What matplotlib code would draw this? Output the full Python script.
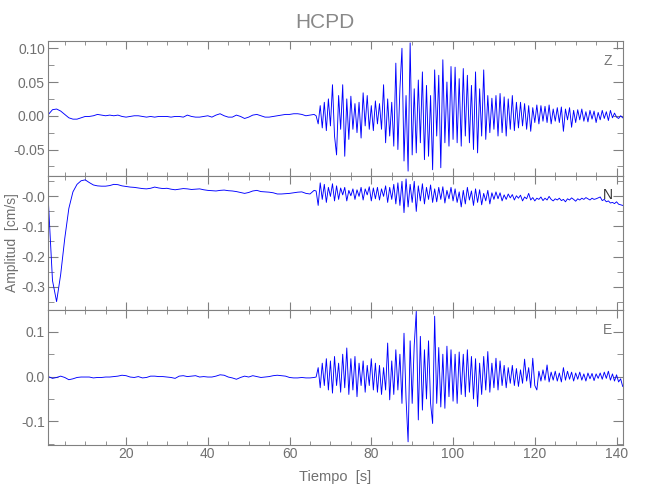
import numpy as np
import matplotlib
matplotlib.use('Agg')
import matplotlib.pyplot as plt
from matplotlib.ticker import MultipleLocator, FixedLocator, FixedFormatter

plt.rcParams['font.family'] = ['Liberation Sans', 'DejaVu Sans']

station = 'HCPD'

# quiet part, 1 s steps from 1 to 65 s
t_quiet = np.arange(1.0, 66.0, 1.0)
# active part, 0.5 s steps from 66 to 141.5 s
t_active = np.arange(66.0, 142.0, 0.5)

z_quiet = [0.002, 0.009, 0.010, 0.007, 0.002, -0.003, -0.005, -0.005, -0.003, -0.001,
           -0.001, 0.000, 0.002, 0.001, 0.000, 0.001, 0.000, 0.001, -0.001, -0.002,
           -0.001, 0.000, 0.000, -0.001, -0.002, -0.001, -0.002, -0.001, -0.001, -0.001,
           -0.002, -0.001, -0.001, -0.002, 0.001, -0.001, -0.002, -0.002, -0.001, 0.000,
           -0.002, 0.001, 0.003, 0.000, -0.002, -0.002, 0.001, -0.001, -0.004, -0.002,
           0.001, 0.002, 0.000, -0.002, -0.002, -0.001, 0.000, 0.001, 0.002, 0.002,
           0.003, 0.003, 0.002, 0.000, 0.001]
z_active = [0.002, 0.000, -0.012, 0.015, -0.018, 0.020, -0.022, 0.025, -0.015, 0.046,
            -0.030, -0.058, 0.030, -0.020, 0.046, -0.060, 0.025, -0.035, 0.029, -0.020,
            0.018, -0.025, 0.020, -0.033, 0.034, -0.015, 0.030, -0.020, 0.015, -0.022,
            0.022, -0.012, 0.018, -0.020, 0.046, -0.040, 0.025, -0.030, 0.020, -0.045,
            0.078, -0.050, 0.040, 0.100, -0.067, 0.030, -0.082, 0.108, -0.058, 0.040,
            -0.055, 0.053, -0.040, 0.065, -0.065, 0.045, -0.060, 0.030, -0.080, 0.068,
            -0.030, 0.060, -0.077, 0.083, -0.040, 0.050, -0.045, 0.073, -0.035, 0.072,
            -0.040, 0.055, -0.045, 0.070, -0.030, 0.060, -0.040, 0.045, -0.050, 0.065,
            -0.055, 0.040, -0.030, 0.068, -0.035, 0.030, -0.025, 0.026, -0.020, 0.030,
            -0.030, 0.033, -0.025, 0.028, -0.030, 0.025, -0.020, 0.030, -0.022, 0.020,
            -0.018, 0.020, -0.015, 0.018, -0.020, 0.015, -0.023, 0.012, -0.010, 0.016,
            -0.012, 0.015, -0.008, 0.014, -0.010, 0.016, -0.012, 0.010, -0.008, 0.012,
            -0.010, 0.013, -0.023, 0.010, -0.006, 0.012, -0.017, 0.008, -0.010, 0.009,
            -0.006, 0.010, -0.008, 0.006, -0.009, 0.008, -0.005, 0.007, -0.010, 0.005,
            -0.006, 0.008, -0.004, 0.006, -0.007, 0.008, -0.003, 0.004, -0.002, -0.004,
            0.000, -0.003]

n_quiet = [-0.02, -0.28, -0.35, -0.26, -0.14, -0.04, 0.015, 0.040, 0.052, 0.055,
           0.046, 0.038, 0.035, 0.034, 0.034, 0.036, 0.040, 0.039, 0.035, 0.033,
           0.031, 0.030, 0.028, 0.026, 0.025, 0.027, 0.031, 0.028, 0.026, 0.027,
           0.024, 0.022, 0.024, 0.026, 0.025, 0.023, 0.024, 0.025, 0.022, 0.020,
           0.019, 0.018, 0.020, 0.021, 0.019, 0.018, 0.016, 0.013, 0.010, 0.013,
           0.018, 0.020, 0.016, 0.015, 0.014, 0.012, 0.008, 0.008, 0.009, 0.010,
           0.012, 0.014, 0.015, 0.010, 0.008]
n_active = [0.020, 0.018, -0.030, 0.045, -0.010, 0.040, -0.020, 0.030, 0.000, 0.042,
            -0.015, 0.035, -0.010, 0.028, 0.005, 0.030, -0.015, 0.020, 0.002, 0.025,
            -0.010, 0.022, 0.000, 0.030, -0.012, 0.025, 0.005, 0.032, -0.015, 0.028,
            -0.008, 0.030, -0.012, 0.025, 0.000, 0.035, -0.020, 0.030, -0.010, 0.040,
            -0.025, 0.045, -0.030, 0.050, -0.054, 0.058, -0.035, 0.040, -0.020, 0.050,
            -0.050, 0.035, -0.015, 0.042, -0.025, 0.030, -0.010, 0.038, -0.020, 0.025,
            -0.018, 0.030, -0.010, 0.032, -0.022, 0.020, -0.008, 0.030, -0.015, 0.025,
            -0.020, 0.015, -0.035, 0.020, -0.025, 0.030, -0.012, 0.018, -0.030, 0.025,
            -0.020, 0.022, -0.028, 0.010, -0.015, 0.020, -0.025, 0.012, -0.010, 0.015,
            -0.008, 0.012, -0.015, 0.005, -0.010, 0.008, -0.005, 0.006, -0.012, 0.002,
            -0.006, 0.004, -0.015, -0.002, -0.008, 0.010, -0.012, -0.004, -0.015, -0.006,
            -0.010, -0.002, -0.014, -0.006, -0.012, 0.000, -0.010, -0.015, -0.008, -0.012,
            -0.006, -0.014, -0.010, -0.018, -0.008, -0.012, -0.005, -0.010, -0.016, -0.008,
            -0.012, -0.006, -0.010, -0.004, -0.008, -0.012, -0.006, -0.010, -0.008, -0.005,
            -0.002, -0.014, -0.010, -0.018, -0.015, -0.022, -0.020, -0.024, -0.018, -0.026,
            -0.028, -0.030]

e_quiet = [0.000, -0.004, -0.002, 0.001, -0.002, -0.007, -0.005, -0.002, -0.001, -0.001,
           -0.001, -0.003, -0.002, -0.002, -0.001, -0.001, 0.000, 0.001, 0.003, 0.002,
           -0.001, -0.002, 0.000, -0.003, -0.002, 0.001, 0.001, 0.000, 0.000, -0.001,
           -0.002, -0.004, 0.001, 0.002, 0.000, 0.001, 0.002, -0.001, 0.000, -0.001,
           -0.001, 0.001, 0.004, 0.003, -0.001, -0.003, -0.006, -0.002, 0.001, -0.001,
           0.002, 0.000, -0.002, -0.001, 0.000, 0.002, 0.003, 0.002, 0.001, -0.002,
           -0.003, -0.003, -0.002, -0.003, -0.003]
e_active = [-0.002, -0.001, 0.020, -0.025, 0.030, -0.020, 0.040, -0.030, 0.035, -0.037,
            0.045, -0.020, 0.030, -0.035, 0.050, -0.025, 0.064, -0.040, 0.040, -0.030,
            0.045, -0.045, 0.030, -0.020, 0.035, -0.035, 0.025, -0.020, 0.040, -0.030,
            0.030, -0.035, 0.025, -0.040, 0.020, -0.030, 0.075, -0.052, 0.035, -0.040,
            0.060, -0.030, 0.050, -0.060, 0.097, -0.050, -0.146, 0.080, -0.060, 0.070,
            0.146, -0.097, 0.090, -0.075, 0.060, -0.050, 0.080, -0.060, -0.105, 0.135,
            -0.060, 0.065, -0.068, 0.050, -0.071, 0.068, -0.045, 0.060, -0.055, 0.050,
            -0.060, 0.055, -0.040, 0.050, -0.045, 0.060, -0.035, 0.045, -0.050, 0.040,
            -0.067, 0.030, -0.040, 0.045, -0.030, 0.056, -0.035, 0.030, -0.025, 0.041,
            -0.030, 0.035, -0.020, 0.025, -0.025, 0.020, -0.015, 0.025, -0.020, 0.018,
            -0.022, 0.015, -0.015, 0.039, -0.010, 0.020, -0.025, 0.041, -0.020, -0.030,
            0.012, -0.010, 0.015, -0.008, 0.026, -0.012, 0.010, -0.008, 0.012, -0.010,
            0.008, -0.012, 0.020, -0.008, 0.012, -0.006, 0.010, -0.010, 0.008, -0.006,
            0.010, -0.008, 0.006, -0.010, 0.008, -0.005, 0.007, -0.009, 0.006, -0.004,
            0.008, -0.006, 0.010, -0.004, 0.012, -0.008, 0.006, -0.010, 0.004, -0.012,
            -0.005, -0.022]

components = ['Z', 'N', 'E']
traces = [z_quiet + z_active, n_quiet + n_active, e_quiet + e_active]
ylims = [(-0.0885, 0.1108), (-0.378, 0.0695), (-0.152, 0.149)]
yticks = [[-0.05, 0.0, 0.05, 0.10], [-0.3, -0.2, -0.1, 0.0], [-0.1, 0.0, 0.1]]
yticklabels = [['-0.05', '0.00', '0.05', '0.10'],
               ['-0.3', '-0.2', '-0.1', '-0.0'],
               ['-0.1', '0.0', '0.1']]
yminor = [0.025, 0.05, 0.05]
label_colors = ['#777777', '#333333', '#777777']

gray = '#808080'
txt = '#707070'
t = np.concatenate([t_quiet, t_active])

fig = plt.figure(figsize=(6.5, 5), dpi=100)
bottoms = [0.649, 0.38, 0.111]
for i, comp in enumerate(components):
    ax = fig.add_axes([0.0734, bottoms[i], 0.8852, 0.269])
    ax.plot(t, traces[i], color='blue', lw=0.65)
    ax.set_xlim(0.83, 141.6)
    ax.set_ylim(*ylims[i])
    ax.xaxis.set_major_locator(MultipleLocator(20))
    ax.xaxis.set_minor_locator(MultipleLocator(5))
    ax.yaxis.set_major_locator(FixedLocator(yticks[i]))
    ax.yaxis.set_major_formatter(FixedFormatter(yticklabels[i]))
    ax.yaxis.set_minor_locator(MultipleLocator(yminor[i]))
    ax.tick_params(which='both', direction='in', top=True, right=True,
                   colors=gray, labelcolor=txt, labelsize=10, pad=2)
    ax.tick_params(axis='x', which='major', length=6)
    ax.tick_params(axis='x', which='minor', length=3)
    ax.tick_params(axis='y', which='major', length=7)
    ax.tick_params(axis='y', which='minor', length=4)
    for sp in ax.spines.values():
        sp.set_color(gray)
        sp.set_linewidth(0.8)
    if i < 2:
        ax.tick_params(axis='x', labelbottom=False)
    ax.text(0.973, 0.855, comp, transform=ax.transAxes, ha='center', va='center',
            color=label_colors[i], fontsize=10)
    if i == 2:
        ax.set_xlabel('Tiempo  [s]', color=txt, fontsize=10.5, labelpad=6)

fig.text(0.019, 0.515, 'Amplitud  [cm/s]', rotation=90, ha='center', va='center',
         color=txt, fontsize=10)
fig.text(0.5, 0.955, station, ha='center', va='center', color='#888888', fontsize=15)

fig.savefig('out.png', dpi=100)
